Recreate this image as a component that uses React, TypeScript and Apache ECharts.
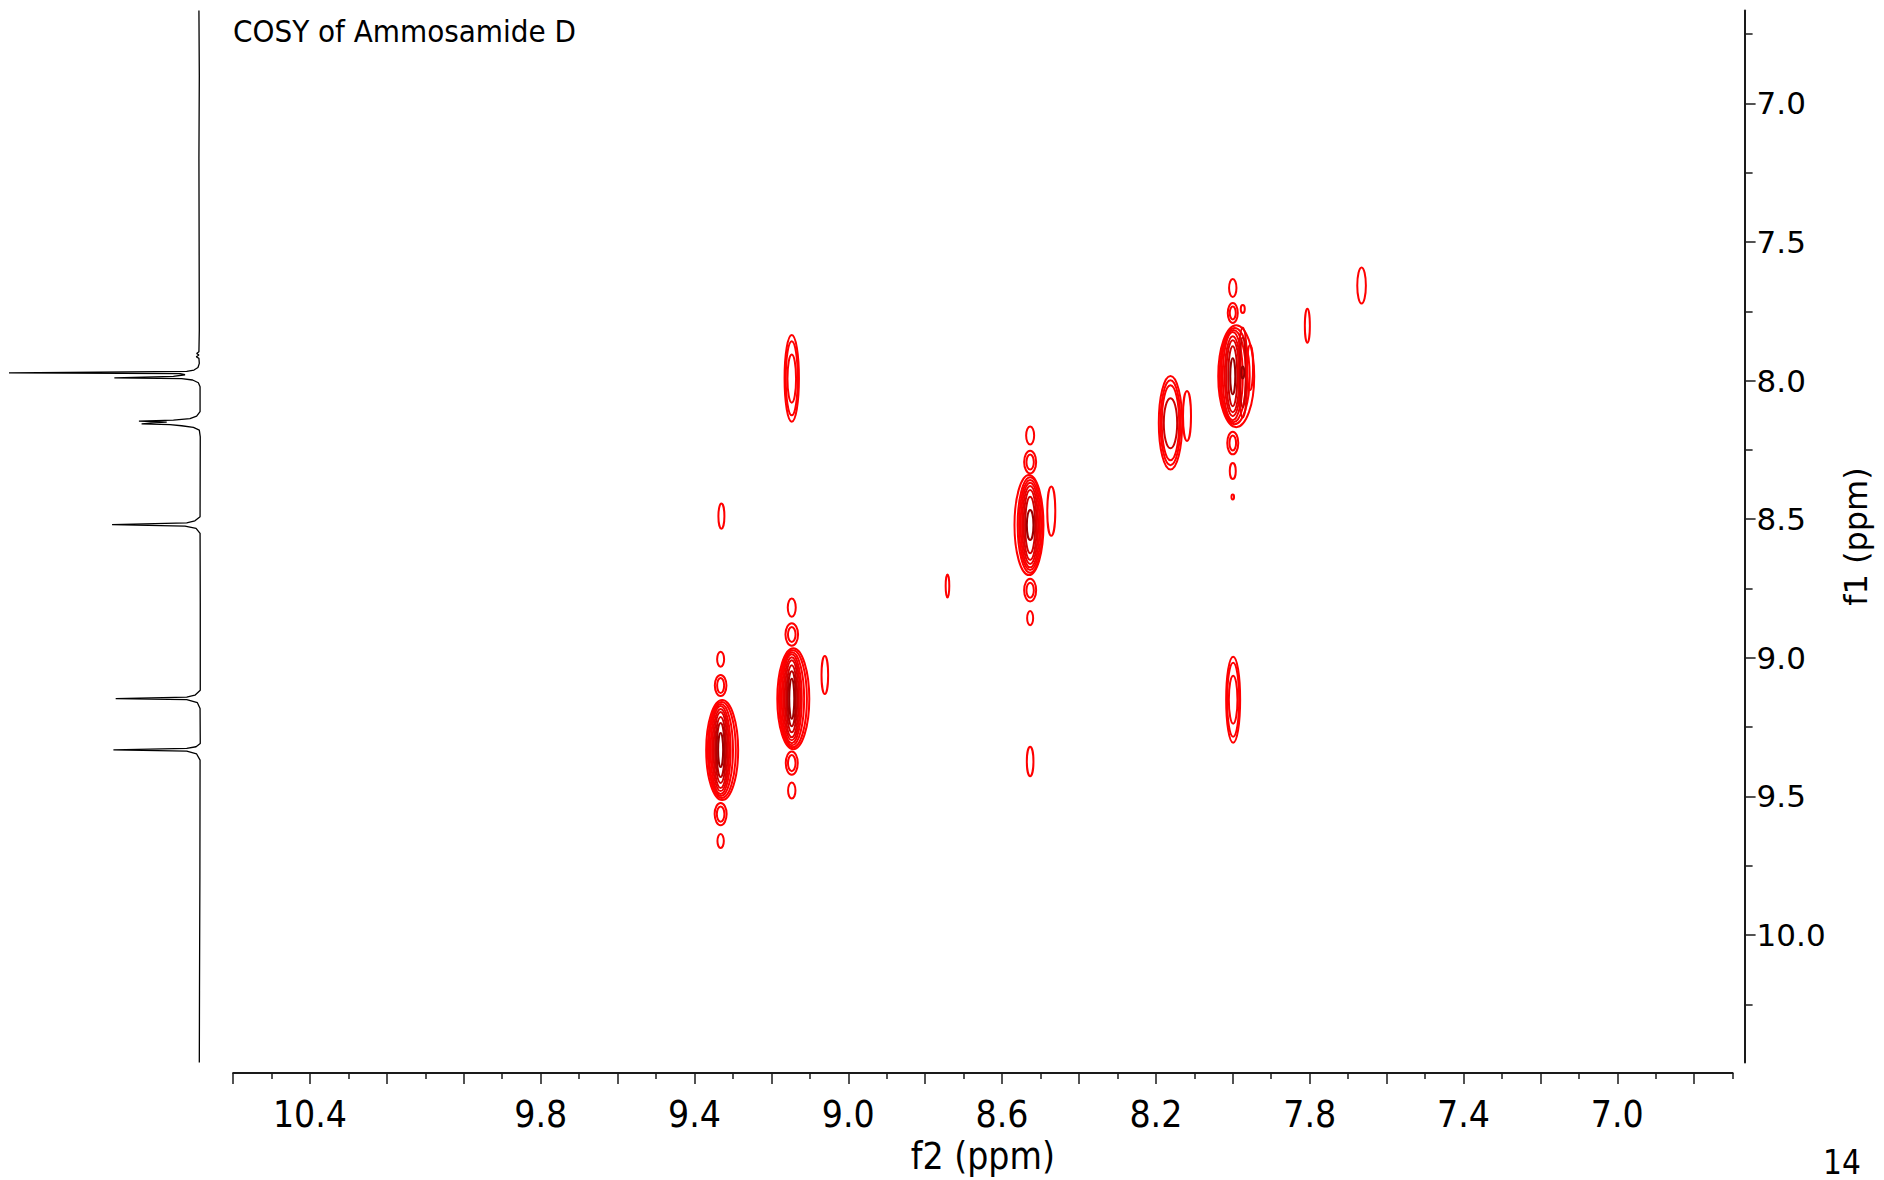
import React, { useEffect, useRef } from "react";
import * as echarts from "echarts";

// ---- axes ----
const F2_MIN = 6.7;
const F2_MAX = 10.6;
const F1_MIN = 6.665;
const F1_MAX = 10.46;

const f2Labels = [10.4, 9.8, 9.4, 9.0, 8.6, 8.2, 7.8, 7.4, 7.0];
const f2MajorTicks = [10.6, 10.4, 10.2, 10.0, 9.8, 9.6, 9.4, 9.2, 9.0, 8.8, 8.6, 8.4, 8.2, 8.0, 7.8, 7.6, 7.4, 7.2, 7.0, 6.8];
const f2MinorTicks = [10.5, 10.3, 10.1, 9.9, 9.7, 9.5, 9.3, 9.1, 8.9, 8.7, 8.5, 8.3, 8.1, 7.9, 7.7, 7.5, 7.3, 7.1, 6.9, 6.7];
const f1Labels = [7.0, 7.5, 8.0, 8.5, 9.0, 9.5, 10.0];
const f1MinorTicks = [6.75, 7.25, 7.75, 8.25, 8.75, 9.25, 9.75, 10.25];

// ---- contours: [f2, f1, halfWidth(ppm), halfHeight(ppm), level] ----
const diag933 = [
  [9.328, 9.333, 0.0416, 0.1804, 0],
  [9.329, 9.333, 0.0364, 0.1732, 1],
  [9.331, 9.333, 0.0312, 0.166, 2],
  [9.332, 9.333, 0.026, 0.1588, 3],
  [9.332, 9.333, 0.0221, 0.1479, 4],
  [9.332, 9.333, 0.0182, 0.1371, 5],
  [9.332, 9.333, 0.0143, 0.1191, 6],
  [9.332, 9.333, 0.0104, 0.0974, 7],
  [9.332, 9.333, 0.0065, 0.0613, 8],
  [9.332, 9.005, 0.0091, 0.0271, 0],
  [9.332, 9.1, 0.0151, 0.0379, 0],
  [9.332, 9.1, 0.0091, 0.0271, 1],
  [9.332, 9.564, 0.0156, 0.0397, 0],
  [9.332, 9.564, 0.0099, 0.0271, 1],
  [9.332, 9.661, 0.0083, 0.0253, 0],
];
const diag915 = [
  [9.143, 9.148, 0.0416, 0.1822, 0],
  [9.144, 9.148, 0.0364, 0.175, 1],
  [9.146, 9.148, 0.0312, 0.1678, 2],
  [9.147, 9.148, 0.026, 0.1606, 3],
  [9.147, 9.148, 0.0221, 0.1497, 4],
  [9.147, 9.148, 0.0182, 0.1389, 5],
  [9.147, 9.148, 0.0143, 0.1209, 6],
  [9.147, 9.148, 0.0104, 0.0992, 7],
  [9.147, 9.148, 0.0065, 0.0722, 8],
  [9.147, 8.819, 0.0104, 0.0332, 0],
  [9.147, 8.916, 0.0164, 0.0404, 0],
  [9.147, 8.916, 0.0099, 0.0271, 1],
  [9.147, 9.38, 0.0156, 0.0422, 0],
  [9.147, 9.38, 0.0099, 0.0289, 1],
  [9.147, 9.479, 0.0096, 0.0289, 0],
  [9.061, 9.062, 0.0086, 0.0686, 0],
];
const cross915x799 = [
  [9.147, 7.992, 0.0187, 0.1562, 0],
  [9.147, 7.992, 0.0156, 0.1335, 1],
  [9.147, 7.993, 0.0112, 0.0866, 2],
];
const cross800x915 = [
  [7.999, 9.151, 0.0182, 0.1551, 0],
  [7.999, 9.151, 0.0156, 0.1335, 1],
  [7.999, 9.151, 0.0112, 0.0866, 2],
];
const cross933x849 = [[9.33, 8.489, 0.0078, 0.0451, 0]];
const diag852 = [
  [8.53, 8.521, 0.0377, 0.1804, 0],
  [8.527, 8.521, 0.0325, 0.1721, 1],
  [8.527, 8.521, 0.0286, 0.1624, 2],
  [8.527, 8.521, 0.0247, 0.1526, 3],
  [8.527, 8.521, 0.0208, 0.1407, 4],
  [8.527, 8.521, 0.0169, 0.1263, 5],
  [8.527, 8.521, 0.013, 0.1021, 6],
  [8.527, 8.521, 0.0086, 0.0541, 8],
  [8.527, 8.198, 0.0104, 0.0325, 0],
  [8.527, 8.294, 0.0156, 0.0408, 0],
  [8.527, 8.294, 0.0096, 0.0271, 1],
  [8.527, 8.756, 0.0156, 0.0408, 0],
  [8.527, 8.756, 0.0096, 0.0271, 1],
  [8.527, 8.857, 0.0078, 0.0253, 0],
  [8.472, 8.471, 0.0104, 0.0891, 0],
];
const cross852x937 = [[8.527, 9.374, 0.0086, 0.053, 0]];
const small874 = [[8.742, 8.741, 0.0047, 0.0415, 0]];
const diag815 = [
  [8.162, 8.152, 0.0304, 0.1685, 0],
  [8.162, 8.152, 0.026, 0.1533, 1],
  [8.162, 8.152, 0.0226, 0.1353, 2],
  [8.162, 8.154, 0.0174, 0.0902, 6],
  [8.119, 8.128, 0.0104, 0.0902, 0],
];
const diag799 = [
  [7.991, 7.984, 0.0468, 0.184, 0],
  [7.995, 7.984, 0.039, 0.1732, 1],
  [7.998, 7.984, 0.0325, 0.166, 2],
  [8.0, 7.984, 0.026, 0.1588, 3],
  [8.0, 7.984, 0.0208, 0.1443, 4],
  [8.0, 7.984, 0.0169, 0.1299, 5],
  [8.0, 7.984, 0.0117, 0.1082, 6],
  [8.0, 7.984, 0.0065, 0.0649, 8],
  [7.974, 7.971, 0.0117, 0.1624, 4],
  [7.974, 7.971, 0.0078, 0.1263, 6],
  [7.974, 7.971, 0.0039, 0.0216, 8],
  [7.955, 7.953, 0.0078, 0.0812, 0],
  [8.0, 7.666, 0.0096, 0.0325, 0],
  [8.0, 7.756, 0.013, 0.0361, 0],
  [8.0, 7.756, 0.0078, 0.0235, 1],
  [7.974, 7.742, 0.0052, 0.0144, 0],
  [8.0, 8.225, 0.0143, 0.0408, 0],
  [8.0, 8.225, 0.0086, 0.0271, 1],
  [8.0, 8.326, 0.0078, 0.0289, 0],
  [8.0, 8.42, 0.0034, 0.009, 0],
];
const small780 = [[7.806, 7.802, 0.0065, 0.0613, 0]];
const small766 = [[7.665, 7.657, 0.0112, 0.0649, 0]];

const levelColors = ["#ff0000", "#ff0000", "#fd0000", "#f80000", "#ee0000", "#e00000", "#cc0000", "#b30000", "#990000"];

// ---- 1D projection on f1: [ppm, intensity] ----
const spectrumTrace = [
  [6.665, 0.3], [6.9, 0.1], [7.2, 0.3], [7.5, 0.2], [7.818, 0.1],
  [7.896, 0.3], [7.902, 1.5], [7.908, 0.3], [7.914, 1.7], [7.92, 0.3],
  [7.938, 0.1], [7.953, 0.8], [7.962, 2.9], [7.967, 6.7], [7.972, 100], [7.975, 10.2], [7.979, 7.6],
  [7.985, 13.7], [7.99, 44.7], [7.993, 9.4], [7.998, 3.6], [8.008, 0.6], [8.022, -0.3],
  [8.112, -0.3], [8.128, 1.5], [8.137, 5.0], [8.143, 13.7], [8.146, 31.8], [8.15, 17.2], [8.152, 22.5],
  [8.156, 30.4], [8.159, 15.5], [8.163, 9.4], [8.169, 3.2], [8.179, 0.1], [8.203, -0.4],
  [8.491, -0.3], [8.506, 2.4], [8.513, 6.7], [8.52, 45.9], [8.525, 7.6], [8.533, 1.8], [8.551, -0.3],
  [8.8, -0.4],
  [9.117, -0.4], [9.135, 2.4], [9.142, 6.7], [9.147, 44.0], [9.151, 6.7], [9.162, 1.1], [9.183, -0.3],
  [9.309, -0.4], [9.321, 1.8], [9.327, 6.7], [9.332, 45.2], [9.337, 6.7], [9.347, 1.5], [9.369, -0.3],
  [9.8, -0.2], [10.2, 0.0], [10.46, 0.1],
];

const TITLE = "COSY of Ammosamide D";
const PAGE_NO = "14";

const condensed = '"DejaVu Sans Condensed", "Liberation Sans Narrow", "DejaVu Sans", sans-serif';
const wide = '"DejaVu Sans", Verdana, sans-serif';

export default function App() {
  const ref = useRef<HTMLDivElement>(null);
  useEffect(() => {
    if (!ref.current) return;
    const chart = echarts.init(ref.current, undefined, { renderer: "svg" });
    const contours = [
      ...diag933, ...diag915, ...cross915x799, ...cross800x915, ...cross933x849,
      ...diag852, ...cross852x937, ...small874, ...diag815, ...diag799, ...small780, ...small766,
    ];
    const gridTop = 10.5;
    const gridH = 1052;
    const mainLeft = 233.1;
    const mainW = 1499.5;
    const axisCommon = { splitLine: { show: false } };
    chart.setOption({
      animation: false,
      backgroundColor: "#ffffff",
      grid: [
        { left: mainLeft, top: gridTop, width: mainW, height: gridH },
        { left: 9, top: gridTop, width: 190.5, height: gridH },
      ],
      xAxis: [
        {
          ...axisCommon,
          gridIndex: 0, type: "value", min: F2_MIN, max: F2_MAX, inverse: true,
          position: "bottom", offset: 10.5,
          axisLine: { show: true, lineStyle: { color: "#1a1a1a", width: 2 } },
          axisTick: { show: true, customValues: f2MajorTicks, length: 11, lineStyle: { color: "#1a1a1a", width: 1.5 } },
          axisLabel: {
            show: true, customValues: f2Labels, formatter: (v: number) => v.toFixed(1),
            fontSize: 37, fontFamily: condensed, color: "#000", margin: 23,
          },
          name: "f2 (ppm)", nameLocation: "middle", nameGap: 58,
          nameTextStyle: { fontSize: 37, fontFamily: condensed, color: "#000" },
        },
        {
          ...axisCommon,
          gridIndex: 0, type: "value", min: F2_MIN, max: F2_MAX, inverse: true,
          position: "bottom", offset: 10.5,
          axisLine: { show: false },
          axisTick: { show: true, customValues: f2MinorTicks, length: 6, lineStyle: { color: "#1a1a1a", width: 1.5 } },
          axisLabel: { show: false },
        },
        { gridIndex: 1, type: "value", min: 0, max: 100, inverse: true, show: false, splitLine: { show: false } },
      ],
      yAxis: [
        {
          ...axisCommon,
          gridIndex: 0, type: "value", min: F1_MIN, max: F1_MAX, inverse: true,
          position: "right", offset: 12,
          axisLine: { show: true, lineStyle: { color: "#1a1a1a", width: 2 } },
          axisTick: { show: true, customValues: f1Labels, length: 11, lineStyle: { color: "#1a1a1a", width: 1.5 } },
          axisLabel: {
            show: true, customValues: f1Labels, formatter: (v: number) => v.toFixed(1),
            fontSize: 31, fontFamily: wide, color: "#000", margin: 12,
          },
          name: "f1 (ppm)", nameLocation: "middle", nameGap: 95, nameRotate: 90,
          nameTextStyle: { fontSize: 32, fontFamily: wide, color: "#000" },
        },
        {
          ...axisCommon,
          gridIndex: 0, type: "value", min: F1_MIN, max: F1_MAX, inverse: true,
          position: "right", offset: 12,
          axisLine: { show: false },
          axisTick: { show: true, customValues: f1MinorTicks, length: 8, lineStyle: { color: "#1a1a1a", width: 1.5 } },
          axisLabel: { show: false },
        },
        { gridIndex: 1, type: "value", min: F1_MIN, max: F1_MAX, inverse: true, show: false, splitLine: { show: false } },
      ],
      graphic: [
        {
          type: "text", x: 233, y: 31,
          style: { text: TITLE, fontSize: 31, fontFamily: condensed, fill: "#000", verticalAlign: "middle", align: "left" },
        },
        {
          type: "text", x: 1823, y: 1162,
          style: { text: PAGE_NO, fontSize: 33, fontFamily: condensed, fill: "#000", verticalAlign: "middle", align: "left" },
        },
      ],
      series: [
        {
          type: "custom",
          xAxisIndex: 0, yAxisIndex: 0,
          data: contours,
          encode: { x: 0, y: 1 },
          renderItem: (params: any, api: any) => {
            const c = api.coord([api.value(0), api.value(1)]);
            const s = api.size([api.value(2), api.value(3)]);
            const lvl = api.value(4) as number;
            return {
              type: "ellipse",
              shape: { cx: c[0], cy: c[1], rx: Math.abs(s[0]), ry: Math.abs(s[1]) },
              style: { fill: "none", stroke: levelColors[lvl] || "#ff0000", lineWidth: 2 },
            };
          },
        },
        {
          type: "line",
          xAxisIndex: 2, yAxisIndex: 2,
          data: spectrumTrace.map((p) => [p[1], p[0]]),
          showSymbol: false, symbol: "none", clip: false,
          lineStyle: { color: "#000", width: 1.3 },
        },
      ],
    });
    return () => chart.dispose();
  }, []);
  return <div ref={ref} style={{ position: "absolute", left: 0, top: 0, width: 1884, height: 1180 }} />;
}
